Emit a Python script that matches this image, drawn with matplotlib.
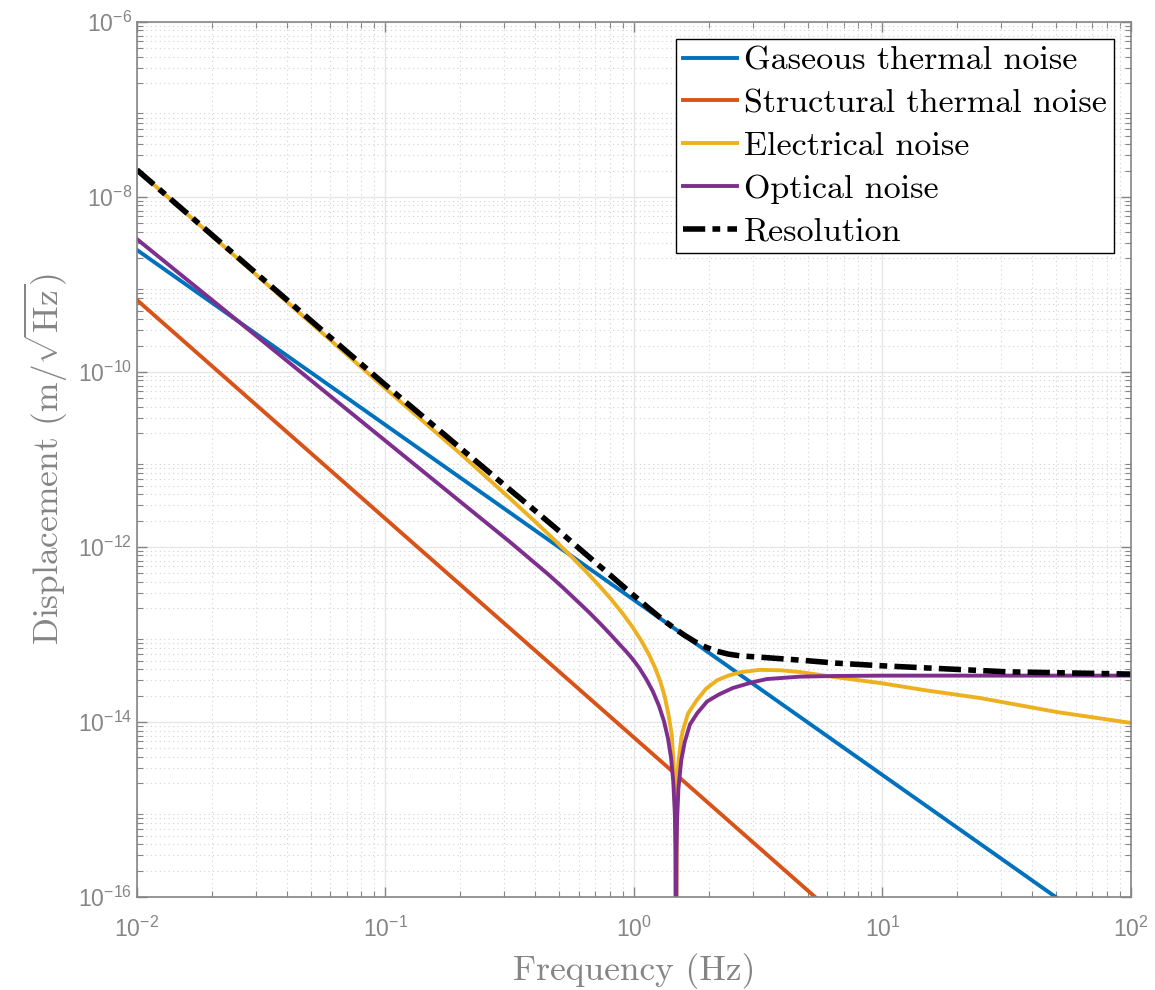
import numpy as np
import matplotlib
matplotlib.use("Agg")
import matplotlib.pyplot as plt
from matplotlib.ticker import LogLocator, NullFormatter

# values (frequency in Hz, displacement in m/sqrt(Hz))
gas_f = [0.01, 0.1, 1, 10, 100]
gas_x = [2.48e-9, 2.48e-11, 2.48e-13, 2.48e-15, 2.48e-17]

struct_f = [0.01, 0.1, 1, 10]
struct_x = [6.65e-10, 2.1e-12, 6.65e-15, 2.1e-17]

elec_f = [0.01, 0.1, 0.2, 0.316, 0.4, 0.481, 0.56, 0.64, 0.73, 0.81, 0.9, 0.99,
          1.07, 1.15, 1.22, 1.28, 1.33, 1.38, 1.42, 1.45, 1.465, 1.476, 1.49,
          1.51, 1.55, 1.575, 1.65, 1.79, 1.95, 2.16, 2.4, 2.67, 3.21, 3.9, 4.66,
          6.5, 9.8, 15, 24.7, 50.4, 99.1]
elec_x = [2.04e-8, 6.46e-11, 1.17e-11, 3.62e-12, 1.95e-12, 1.19e-12, 7.77e-13,
          5.28e-13, 3.53e-13, 2.52e-13, 1.74e-13, 1.2e-13, 8.5e-14, 5.88e-14,
          4.08e-14, 2.83e-14, 1.94e-14, 1.18e-14, 7.0e-15, 2.7e-15, 1.0e-15,
          1.0e-17, 1.7e-15, 3.5e-15, 6.5e-15, 8.1e-15, 1.25e-14, 1.78e-14,
          2.4e-14, 3.0e-14, 3.4e-14, 3.7e-14, 3.95e-14, 3.9e-14, 3.72e-14,
          3.25e-14, 2.79e-14, 2.3e-14, 1.88e-14, 1.3e-14, 9.8e-15]

opt_f = [0.01, 0.0216, 0.0867, 0.2, 0.316, 0.45, 0.52, 0.59, 0.66, 0.73, 0.8,
         0.87, 0.93, 0.99, 1.05, 1.12, 1.19, 1.26, 1.32, 1.37, 1.41, 1.44, 1.46,
         1.47, 1.476, 1.482, 1.49, 1.51, 1.55, 1.6, 1.68, 1.8, 1.97, 2.2, 2.5,
         3.0, 3.43, 4.66, 6.5, 10, 31.6, 100]
opt_x = [3.3e-9, 5.6e-10, 2.27e-11, 3.3e-12, 1.15e-12, 4.92e-13, 3.4e-13,
         2.42e-13, 1.79e-13, 1.34e-13, 1.02e-13, 7.85e-14, 6.4e-14, 5.2e-14,
         4.15e-14, 3.1e-14, 2.25e-14, 1.536e-14, 1.024e-14, 6.53e-15, 3.9e-15,
         2.05e-15, 9.0e-16, 3.4e-16, 1.0e-18, 3.1e-16, 7.3e-16, 1.76e-15,
         3.68e-15, 5.9e-15, 9.4e-15, 1.27e-14, 1.72e-14, 2.07e-14, 2.45e-14,
         2.85e-14, 3.1e-14, 3.3e-14, 3.36e-14, 3.39e-14, 3.39e-14, 3.39e-14]

res_f = [0.01, 0.0316, 0.1, 0.316, 0.4, 0.481, 0.64, 0.81, 0.99, 1.15, 1.3,
         1.44, 1.6, 1.78, 1.95, 2.16, 2.4, 2.67, 3.21, 4.66, 6.5, 10, 31.6, 100]
res_x = [2.04e-8, 1.2e-9, 7.1e-11, 4.54e-12, 2.6e-12, 1.67e-12, 8.28e-13,
         4.66e-13, 2.85e-13, 1.985e-13, 1.493e-13, 1.2e-13, 9.77e-14, 8.12e-14,
         7.15e-14, 6.43e-14, 5.97e-14, 5.71e-14, 5.51e-14, 5.1e-14, 4.71e-14,
         4.39e-14, 3.75e-14, 3.53e-14]

labels = ['Gaseous thermal noise', 'Structural thermal noise', 'Electrical noise',
          'Optical noise', 'Resolution']

plt.rcParams['font.family'] = 'Liberation Sans'
plt.rcParams['mathtext.fontset'] = 'custom'
plt.rcParams['mathtext.rm'] = 'Liberation Sans'
plt.rcParams['mathtext.it'] = 'Liberation Sans:italic'

gray = '#858585'
fig = plt.figure(figsize=(11.55, 9.9), dpi=100)
ax = fig.add_axes([0.1186, 0.0939, 0.8606, 0.8839])

ax.loglog(gas_f, gas_x, color='#0072BD', lw=2.8, label=labels[0])
ax.loglog(struct_f, struct_x, color='#D95319', lw=2.8, label=labels[1])
ax.loglog(elec_f, elec_x, color='#EDB120', lw=2.8, label=labels[2])
ax.loglog(opt_f, opt_x, color='#7E2F8E', lw=2.8, label=labels[3])
ax.loglog(res_f, res_x, color='black', lw=4.0, dashes=(4.0, 1.3, 1.4, 1.3),
          label=labels[4])

ax.set_xlim(1e-2, 1e2)
ax.set_ylim(1e-16, 1e-6)
ax.xaxis.set_major_locator(LogLocator(base=10, numticks=10))
ax.set_yticks([1e-16, 1e-14, 1e-12, 1e-10, 1e-8, 1e-6])
ax.xaxis.set_minor_locator(LogLocator(base=10, subs=np.arange(2, 10), numticks=20))
ax.yaxis.set_minor_locator(LogLocator(base=10, subs=np.arange(2, 10), numticks=40))
ax.xaxis.set_minor_formatter(NullFormatter())
ax.yaxis.set_minor_formatter(NullFormatter())

ax.grid(True, which='major', color='#e6e6e6', lw=1.0)
ax.grid(True, which='minor', color='#d3d3d3', lw=0.8, linestyle=(0, (1, 3)))
ax.set_axisbelow(True)

ax.tick_params(which='both', direction='in', top=True, right=True, colors=gray,
               labelsize=16.5)
ax.tick_params(which='major', length=7, width=1)
ax.tick_params(which='minor', length=4, width=0.8)
ax.tick_params(axis='x', which='major', pad=14)
for s in ax.spines.values():
    s.set_color(gray)
    s.set_linewidth(1.2)

# axis labels placed at fixed spots (axes fraction)
xl = ax.set_xlabel('Frequency (Hz)', fontsize=25.5, color=gray)
xl.set_fontfamily('cmr10')
xl.set_verticalalignment('center')
ax.xaxis.set_label_coords(0.5, -0.0846)
yl = ax.set_ylabel(r'Displacement (m/$\sqrt{\mathrm{Hz}}$)', fontsize=25.5,
                   color=gray)
yl.set_fontfamily('cmr10')
yl.set_math_fontfamily('cm')
yl.set_verticalalignment('center')
ax.yaxis.set_label_coords(-0.092, 0.5)

leg = ax.legend(loc='upper right', prop={'family': 'cmr10', 'size': 24.5},
                fancybox=False, framealpha=1, edgecolor='black',
                handlelength=1.6, handletextpad=0.2, labelspacing=0.38,
                borderaxespad=0.5, borderpad=0.2)
leg.get_frame().set_linewidth(1.0)

fig.savefig('out.png', dpi=100)
